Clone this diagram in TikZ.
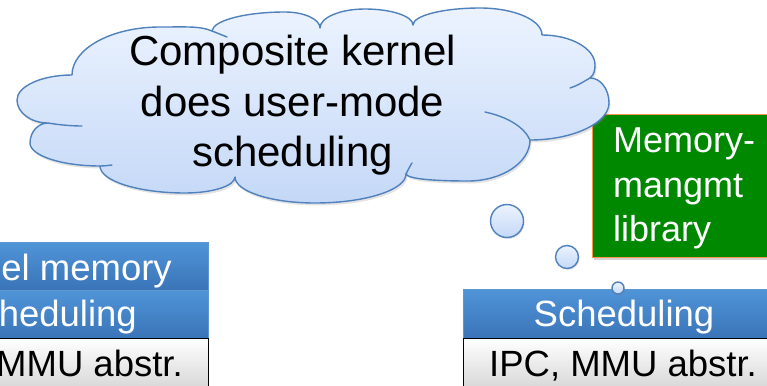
\documentclass[tikz,border=0pt]{standalone}
\usepackage{fontspec}
\setmainfont{Liberation Sans}
\usetikzlibrary{shadows}

\definecolor{cloudline}{RGB}{79,129,189}
\definecolor{cloudtop}{RGB}{236,243,254}
\definecolor{cloudbot}{RGB}{196,216,247}
\definecolor{bluetop}{RGB}{80,148,216}
\definecolor{bluebot}{RGB}{58,116,184}
\definecolor{blueedge}{RGB}{96,150,206}
\definecolor{libgreen}{RGB}{0,136,0}
\definecolor{liborange}{RGB}{247,150,70}

\newcommand\layerfont{\fontsize{36.5}{44}\selectfont}
\newcommand\thoughtfont{\fontsize{42}{50.5}\selectfont}
\newcommand\libfont{\fontsize{36}{44.5}\selectfont}

\tikzset{
  cloudedge/.style={draw=cloudline, line width=1.4pt, line join=round, line cap=round},
  cloudbody/.style={cloudedge, top color=cloudtop, bottom color=cloudbot,
    drop shadow={opacity=0.22, shadow xshift=1.5pt, shadow yshift=-2.5pt}},
  bubble/.style={circle, inner sep=0pt, cloudedge, top color=cloudtop, bottom color=cloudbot,
    drop shadow={opacity=0.22, shadow xshift=1pt, shadow yshift=-1.5pt}},
  bluelayer/.style={rectangle, inner sep=0pt, minimum width=322pt,
    draw=blueedge, line width=0.8pt, top color=bluetop, bottom color=bluebot,
    drop shadow={opacity=0.35, shadow xshift=0pt, shadow yshift=-2.5pt}},
  graylayer/.style={rectangle, inner sep=0pt, minimum width=322pt,
    draw=black, line width=0.9pt, top color=white, bottom color=black!16},
  layertext/.style={inner sep=0pt, font=\layerfont},
  libbox/.style={rectangle, inner sep=0pt, anchor=north west, fill=libgreen,
    draw=liborange, line width=1.3pt,
    drop shadow={opacity=0.35, shadow xshift=1.5pt, shadow yshift=-2.5pt}},
}

\begin{document}
\begin{tikzpicture}[x=1pt, y=-1pt]
\useasboundingbox (0,0) rectangle (767,385);
\clip (0,0) rectangle (767,385);

% left stack of layers
\node[bluelayer, minimum height=48pt] (kmemL) at (47,266) {};
\node[bluelayer, minimum height=48pt] (schedL) at (47,314) {};
\node[graylayer, minimum height=52pt] (ipcL) at (47,364) {};
\node[layertext, anchor=base east, text=white] (kmemLtext) at (172,280) {el memory};
\node[layertext, anchor=base east, text=white] (schedLtext) at (137,326.7) {heduling};
\node[layertext, anchor=base east] (ipcLtext) at (183,376.7) {MMU abstr.};

% right stack of layers
\node[bluelayer, minimum height=49pt] (schedR) at (624,313.5) {};
\node[graylayer, minimum height=52pt] (ipcR) at (624,364) {};
\node[layertext, anchor=base, text=white] (schedRtext) at (624,326.7) {Scheduling};
\node[layertext, anchor=base] (ipcRtext) at (623,376.7) {IPC, MMU abstr.};

% memory-management library
\node[libbox, minimum width=193pt, minimum height=143pt] (lib) at (592,114) {};
\node[inner sep=0pt, anchor=north west, align=left, text=white, font=\libfont]
  (libtext) at (613,128) {Memory-\\mangmt\\library};

% thought cloud
\path[cloudbody] (72,75)
  .. controls (41.8,75) and (17,86.2) .. (17,100)
  .. controls (17,112.7) and (31,123) .. (48,123)
  .. controls (38,123) and (30,132) .. (30,143)
  .. controls (30,155.6) and (61.5,166) .. (100,166)
  .. controls (100,180.9) and (138.2,193) .. (185,193)
  .. controls (212.5,193) and (235,185.8) .. (235,177)
  .. controls (235,191.3) and (271,203) .. (315,203)
  .. controls (365,203) and (406,190) .. (406,174)
  .. controls (408,179) and (434,181) .. (468,181)
  .. controls (502,181) and (530,162.5) .. (530,140)
  .. controls (573,140) and (609,123) .. (609,103)
  .. controls (609,89) and (600.5,78) .. (590,78)
  .. controls (594,75) and (595,70) .. (595,65)
  .. controls (595,48.5) and (571,35) .. (542,35)
  .. controls (542,20) and (514,8) .. (480,8)
  .. controls (443,8) and (413,15.6) .. (413,25)
  .. controls (413,16.2) and (391.4,9) .. (365,9)
  .. controls (340.3,9) and (320,17.5) .. (320,28)
  .. controls (320,19.2) and (304,12) .. (285,12)
  .. controls (245.4,12) and (213,20.5) .. (212,31)
  .. controls (200,26) and (188.6,27) .. (160,27)
  .. controls (111.6,27) and (72,48.6) .. (72,75) -- cycle;

% inner strokes where the puffs overlap
\draw[cloudedge] (48,123) .. controls (60,125) and (72,126) .. (82,126);
\draw[cloudedge] (100,166) .. controls (104,166) and (108,165.5) .. (112,165);
\draw[cloudedge] (406,174) .. controls (408,170) and (410,166) .. (412,163);
\draw[cloudedge] (485,112) .. controls (508,117) and (524,127) .. (530,140);
\draw[cloudedge] (590,78) .. controls (583,82) and (577,86) .. (570,88);
\draw[cloudedge] (212,31) .. controls (217,33) and (222,35) .. (227,37);

\node[inner sep=0pt, anchor=north, align=center, font=\thoughtfont]
  (thought) at (292.5,35) {Composite kernel\\does user-mode\\scheduling};

% trailing thought bubbles
\node[bubble, minimum size=33pt] (bubA) at (507,221) {};
\node[bubble, minimum size=23pt] (bubB) at (567,257) {};
\node[bubble, minimum size=12pt] (bubC) at (618,288) {};
\end{tikzpicture}
\end{document}
